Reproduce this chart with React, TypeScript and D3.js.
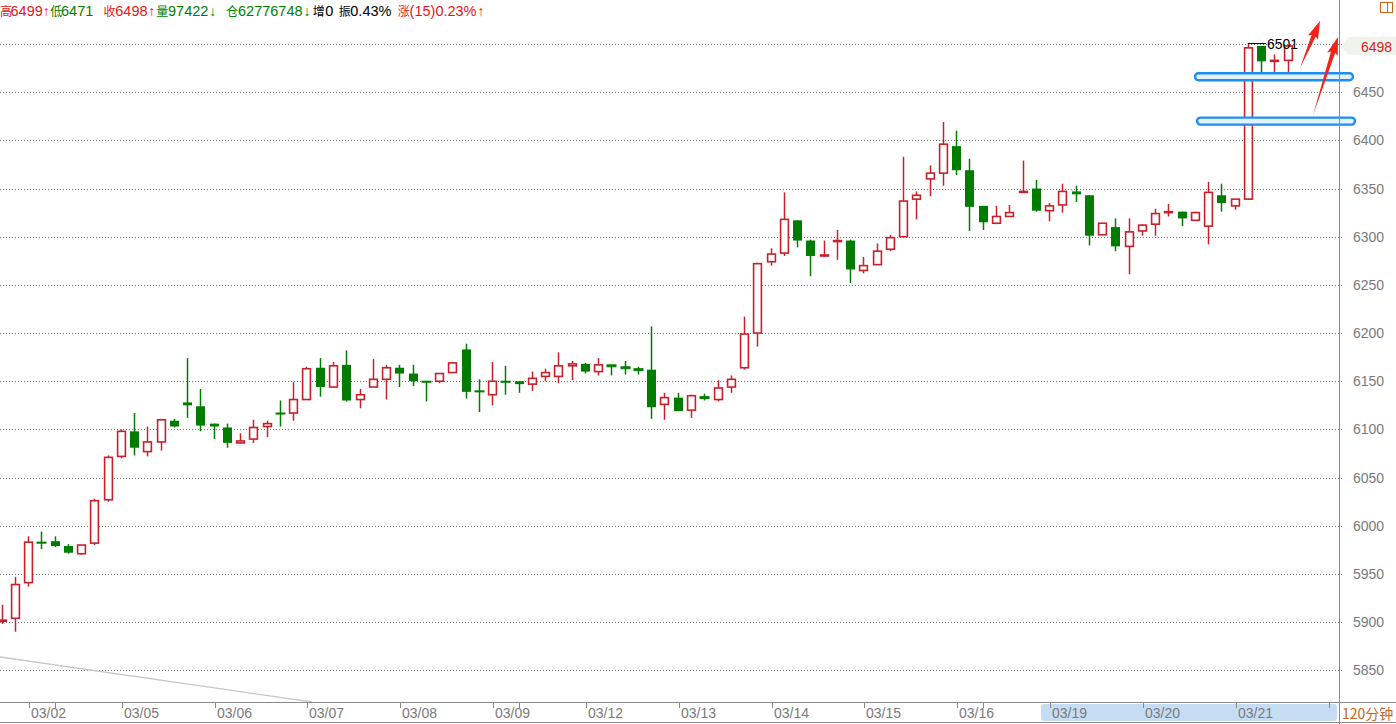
import React from "react";
import * as d3 from "d3";

// ---- data (120-minute candles) ----
const opens = [5901,5904,5941,5983,5984,5979,5971,5982,6027,6072,6098,6077,6087,6109,6128,6124,6106,6102,6086,6090,6103,6117,6117,6131,6164,6144,6167,6131,6144,6152,6164,6158,6150,6150,6159,6183,6140,6136,6150,6150,6147,6155,6155,6166,6168,6160,6167,6165,6163,6162,6126,6133,6120,6134,6131,6144,6164,6200,6274,6283,6317,6296,6280,6295,6296,6265,6271,6287,6300,6339,6360,6366,6394,6369,6332,6314,6321,6346,6350,6327,6333,6347,6343,6302,6310,6290,6306,6313,6325,6326,6317,6311,6343,6332,6339,6498,6482,6483];
const highs = [5918,5947,5989,5994,5989,5981,5980,6028,6073,6100,6117,6103,6111,6111,6174,6142,6106,6106,6096,6110,6109,6130,6149,6165,6174,6170,6182,6142,6173,6167,6167,6167,6150,6158,6170,6189,6152,6170,6166,6150,6160,6163,6180,6171,6169,6174,6167,6171,6165,6207,6138,6138,6136,6137,6151,6156,6217,6273,6288,6346,6317,6297,6296,6307,6297,6279,6293,6302,6383,6347,6374,6419,6410,6381,6332,6332,6333,6379,6359,6335,6355,6353,6343,6314,6319,6319,6313,6329,6334,6326,6326,6357,6355,6339,6501,6498,6489,6499];
const lows = [5898,5890,5937,5976,5978,5971,5970,5980,6025,6070,6073,6072,6078,6102,6112,6098,6090,6081,6085,6086,6092,6103,6109,6131,6134,6143,6129,6122,6144,6131,6144,6145,6129,6148,6159,6132,6118,6125,6136,6138,6140,6150,6148,6151,6158,6156,6156,6157,6157,6111,6110,6119,6112,6130,6129,6138,6162,6186,6270,6280,6289,6259,6279,6276,6252,6262,6271,6285,6300,6318,6342,6353,6364,6306,6307,6313,6321,6346,6326,6316,6325,6336,6291,6302,6285,6261,6301,6301,6321,6311,6317,6292,6326,6328,6338,6470,6471,6471];
const closes = [5902,5939,5983,5982,5979,5972,5980,6026,6071,6098,6081,6087,6110,6103,6125,6104,6103,6086,6088,6102,6106,6116,6131,6163,6144,6166,6130,6136,6152,6164,6158,6150,6149,6158,6169,6139,6139,6150,6149,6147,6153,6159,6166,6168,6160,6167,6165,6163,6161,6123,6133,6119,6135,6132,6143,6152,6199,6272,6282,6318,6296,6280,6281,6296,6266,6270,6285,6299,6337,6343,6366,6396,6369,6331,6315,6321,6325,6347,6327,6332,6347,6344,6301,6314,6290,6305,6312,6324,6326,6319,6325,6346,6335,6339,6496,6482,6483,6498];

const dateLabels = ["03/02","03/05","03/06","03/07","03/08","03/09","03/12","03/13","03/14","03/15","03/16","03/19","03/20","03/21"];
const priceTicks = [6450,6400,6350,6300,6250,6200,6150,6100,6050,6000,5950,5900,5850];
const gridLevels = [6500,6450,6400,6350,6300,6250,6200,6150,6100,6050,6000,5950,5900,5850];
const lastPrice = 6498;
const highMark = 6501;
const supportLines = [6466, 6420];

const RED = "#c8202a";
const GREEN = "#007d00";
const HRED = "#e4161b";
const HGREEN = "#008000";

// header items: label char, value, optional arrow
const headerItems = [
  { cx: 0, ch: "高", nx: 10.5, val: "6499", ax: 42.7, arr: "↑", col: HRED },
  { cx: 50.2, ch: "低", nx: 61, val: "6471", ax: 0, arr: "", col: HGREEN },
  { cx: 103.5, ch: "收", nx: 115.3, val: "6498", ax: 148.3, arr: "↑", col: HRED },
  { cx: 156.2, ch: "量", nx: 168, val: "97422", ax: 209.3, arr: "↓", col: HGREEN },
  { cx: 226.2, ch: "仓", nx: 238, val: "62776748", ax: 303.5, arr: "↓", col: HGREEN },
  { cx: 312.8, ch: "增", nx: 325.3, val: "0", ax: 0, arr: "", col: "#000" },
  { cx: 338.8, ch: "振", nx: 350.3, val: "0.43%", ax: 0, arr: "", col: "#000" },
  { cx: 397.8, ch: "涨", nx: 409.6, val: "(15)0.23%", ax: 477.5, arr: "↑", col: HRED },
];

export default function App() {
  const W = 1396, H = 724;
  const plotRight = 1339;
  const y = d3.scaleLinear().domain([5850, 6500]).range([670.3, 44]);
  const x = d3.scaleLinear().domain([0, 97]).range([1.5, 1287.7]);
  const font = "'Liberation Sans', Arial, 'Noto Sans CJK SC', sans-serif";
  const cjk = "'Noto Sans CJK SC', 'Liberation Sans', sans-serif";

  const candles = opens.map((o, i) => ({ o, h: highs[i], l: lows[i], c: closes[i], i }));
  const dayIdx = dateLabels.map((_, k) => 2 + 7 * k);
  const minorIdx = [4, 39, 74];

  const arrow = (x1: number, y1: number, x2: number, y2: number) => {
    const dx = x2 - x1, dy = y2 - y1;
    const len = Math.hypot(dx, dy);
    const ux = dx / len, uy = dy / len;
    const px = -uy, py = ux;
    const headLen = 16, headW = 5.5, shaftW = 2.2;
    const bx = x2 - ux * headLen, by = y2 - uy * headLen;
    const pts = [
      [x1, y1],
      [bx + px * shaftW, by + py * shaftW],
      [bx + px * headW - ux * 2, by + py * headW - uy * 2],
      [x2, y2],
      [bx - px * headW - ux * 2, by - py * headW - uy * 2],
      [bx - px * shaftW, by - py * shaftW],
    ];
    return pts.map((p) => p.join(",")).join(" ");
  };

  return (
    <svg width={W} height={H} style={{ position: "absolute", left: 0, top: 0, display: "block", background: "#fff" }}>
      <rect x={0} y={0} width={W} height={H} fill="#fff" />
      {/* grid */}
      {gridLevels.map((v) => (
        <line key={v} x1={0} x2={plotRight + 4} y1={Math.round(y(v)) + 0.5} y2={Math.round(y(v)) + 0.5}
          stroke="#777" strokeWidth={1} strokeDasharray="1,2" />
      ))}
      {/* faint diagonal line */}
      <line x1={0} y1={657} x2={312} y2={702} stroke="#c8c8c8" strokeWidth={1.3} />
      {/* candles */}
      {candles.map((d) => {
        const cx = Math.round(x(d.i)) + 0.5;
        const up = d.c >= d.o;
        const col = up ? RED : GREEN;
        const top = y(Math.max(d.o, d.c));
        const bot = y(Math.min(d.o, d.c));
        const bh = Math.max(bot - top, 1);
        if (up) {
          return (
            <g key={d.i}>
              <line x1={cx} x2={cx} y1={y(d.h)} y2={top} stroke={col} strokeWidth={1.5} />
              <line x1={cx} x2={cx} y1={top + bh} y2={y(d.l)} stroke={col} strokeWidth={1.5} />
              <rect x={cx - 3.9} y={top} width={7.8} height={bh} fill="#fff" stroke={col} strokeWidth={1.6} />
            </g>
          );
        }
        return (
          <g key={d.i}>
            <line x1={cx} x2={cx} y1={y(d.h)} y2={y(d.l)} stroke={col} strokeWidth={1.5} />
            <rect x={cx - 4.5} y={top} width={9} height={bh} fill={col} stroke={col} strokeWidth={bh < 2 ? 1 : 0} />
          </g>
        );
      })}
      {/* high marker */}
      <line x1={x(94)} x2={x(94) + 18} y1={y(highMark) + 0.5} y2={y(highMark) + 0.5} stroke="#000" strokeWidth={1} />
      <text x={x(94) + 19} y={y(highMark) + 5.5} fontFamily={font} fontSize={14} fill="#000">{highMark}</text>
      {/* support lines */}
      <rect x={1195} y={y(supportLines[0]) - 3.5} width={158} height={7} rx={3.5} fill="#e3f2ff" stroke="#1e8ef0" strokeWidth={2.4} />
      <rect x={1197} y={y(supportLines[1]) - 3.5} width={158} height={7} rx={3.5} fill="#e3f2ff" stroke="#1e8ef0" strokeWidth={2.4} />
      {/* arrows */}
      <polygon points={arrow(1300, 68, 1320, 21)} fill="#f2231b" />
      <polygon points={arrow(1313, 115, 1338, 37)} fill="#f2231b" />
      {/* right axis */}
      <line x1={plotRight + 0.5} x2={plotRight + 0.5} y1={0} y2={H} stroke="#8a8a8a" strokeWidth={1} />
      {priceTicks.map((v) => (
        <text key={v} x={1353} y={y(v) + 5} fontFamily={font} fontSize={14} fill="#7a7a7a">{v}</text>
      ))}
      <polygon points={`1341,${y(lastPrice) + 1} 1349,37 1396,37 1396,55 1349,55`} fill="#eef4ec" />
      <text x={1361} y={y(lastPrice) + 6} fontFamily={font} fontSize={14} fill={HRED}>{lastPrice}</text>
      {/* top-right icon */}
      <rect x={1380.5} y={2.5} width={12} height={10} fill="none" stroke="#c8641e" strokeWidth={1} />
      <line x1={1387.5} x2={1387.5} y1={2.5} y2={12.5} stroke="#c8641e" strokeWidth={1} />
      {/* bottom axis */}
      <rect x={1041} y={704} width={296} height={17} rx={3} fill="#c6dcf3" />
      <line x1={0} x2={W} y1={702.5} y2={702.5} stroke="#8a8a8a" strokeWidth={1} />
      <line x1={0} x2={W} y1={722.5} y2={722.5} stroke="#8a8a8a" strokeWidth={1} />
      {dayIdx.map((idx, k) => {
        const tx = Math.round(x(idx) + 1) + 0.5;
        return (
          <g key={idx}>
            <line x1={tx} x2={tx} y1={703} y2={708} stroke="#8a8a8a" strokeWidth={1} />
            <text x={tx + 1.5} y={718} fontFamily={font} fontSize={14} fill="#7a7a7a">{dateLabels[k]}</text>
          </g>
        );
      })}
      <line x1={Math.round(x(100)) + 2.5} x2={Math.round(x(100)) + 2.5} y1={703} y2={708} stroke="#8a8a8a" strokeWidth={1} />
      {minorIdx.map((idx) => (
        <line key={idx} x1={Math.round(x(idx)) + 0.5} x2={Math.round(x(idx)) + 0.5} y1={703} y2={708} stroke="#8a8a8a" strokeWidth={1} />
      ))}
      <text x={1342} y={719} fontFamily={cjk} fontSize={14} fill="#c8641e">120分钟</text>
      {/* header */}
      {headerItems.map((g, k) => (
        <g key={k}>
          <text x={g.cx} y={16} fontSize={12} fontFamily={cjk} fill={g.col}>{g.ch}</text>
          <text x={g.nx} y={16} fontSize={14.5} fontFamily={font} fill={g.col}>{g.val}</text>
          {g.arr ? <text x={g.ax} y={16} fontSize={14} fontFamily={font} fill={g.col}>{g.arr}</text> : null}
        </g>
      ))}
    </svg>
  );
}
